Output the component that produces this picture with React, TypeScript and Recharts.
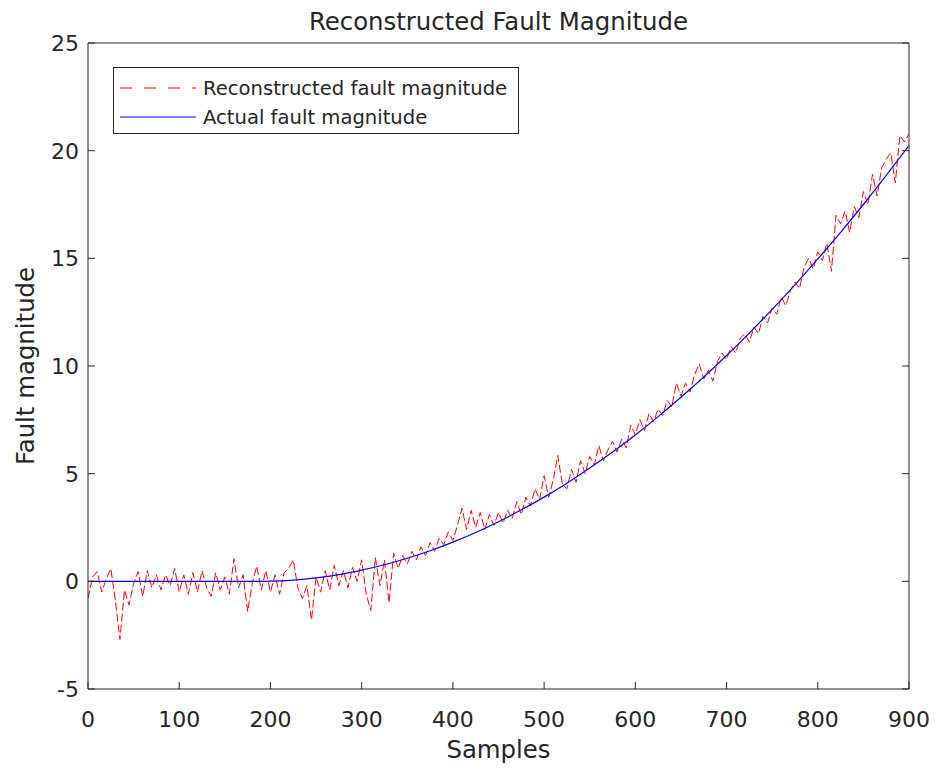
import React from 'react';
import { LineChart, Line, XAxis, YAxis } from 'recharts';

const xTicks = [0, 100, 200, 300, 400, 500, 600, 700, 800, 900];
const yTicks = [-5, 0, 5, 10, 15, 20, 25];

// Reconstructed fault magnitude, read every 5 samples (0..900)
const reconValues = [
  -0.8, 0.2, 0.45, -0.5, 0.1, 0.6, -0.9, -2.7, -0.4, -1.1,
  -0.1, 0.45, -0.7, 0.5, -0.3, 0.3, -0.4, 0.3, -0.2, 0.6,
  -0.5, 0.3, -0.6, 0.4, -0.5, 0.5, -0.3, -0.7, 0.4, -0.4,
  0.2, -0.6, 1.05, -0.3, 0.3, -1.4, -0.1, 0.7, -0.4, 0.5,
  -0.5, 0.3, -0.6, 0.4, 0.6, 1.0, -0.3, -0.8, -0.2, -1.8,
  0.2, -0.5, 0.5, -0.4, 0.75, -0.2, 0.5, -0.3, 0.65, 0.0,
  1.0, -0.6, -1.35, 1.1, -0.2, 1.0, -1.0, 1.3, 0.6, 1.2,
  0.8, 1.4, 1.0, 1.6, 1.2, 1.8, 1.4, 2.0, 1.7, 2.3,
  1.9, 2.6, 3.4, 2.4, 3.3, 2.5, 3.2, 2.4, 3.1, 2.6,
  3.2, 2.7, 3.3, 2.9, 3.7, 3.1, 3.9, 3.5, 4.3, 3.8,
  4.9, 3.9, 4.7, 5.85, 4.5, 4.3, 5.2, 4.6, 5.6, 5.0,
  5.8, 5.4, 6.3, 5.6, 6.1, 6.5, 6.0, 6.6, 6.2, 7.25,
  6.8, 7.5, 7.0, 7.8, 7.4, 8.0, 7.7, 8.4, 8.1, 9.2,
  8.6, 9.2, 8.8, 9.6, 10.1, 9.4, 9.8, 9.3, 10.2, 10.6,
  10.3, 10.9, 10.6, 11.3, 11.5, 11.1, 11.8, 11.5, 12.3, 12.0,
  12.7, 12.4, 13.2, 12.8, 13.5, 13.9, 13.6, 14.6, 15.0, 14.5,
  15.3, 14.9, 15.7, 14.4, 17.0, 16.6, 17.2, 16.2, 17.4, 16.9,
  18.1, 17.5, 18.9, 17.9, 19.2, 19.6, 19.9, 18.5, 20.7, 20.4,
  20.8,
];

// Actual fault magnitude
const actualSamples = [
  0, 100, 186, 200, 225, 250, 275, 300, 325, 350, 375, 400, 425, 450, 475, 500,
  525, 550, 575, 600, 625, 650, 675, 700, 725, 750, 775, 800, 825, 850, 875, 900,
];
const actualValues = [
  0, 0, 0, 0.01, 0.06, 0.16, 0.31, 0.52, 0.77, 1.07, 1.42, 1.82, 2.27, 2.77, 3.32, 3.91,
  4.56, 5.26, 6.01, 6.8, 7.65, 8.55, 9.49, 10.49, 11.53, 12.63, 13.77, 14.97, 16.21, 17.5, 18.85, 20.24,
];

const reconData = reconValues.map((y, i) => ({ x: i * 5, y }));
const actualData = actualSamples.map((x, i) => ({ x, y: actualValues[i] }));

const FONT = "'DejaVu Sans', 'Liberation Sans', Arial, sans-serif";
const INK = '#262626';
const TICK_LEN = 7;
const X_MARGIN = 22;
const Y_MARGIN = 9;

const BottomTick = (props: any) => {
  const { x, y, payload } = props;
  const axisY = y - X_MARGIN;
  return (
    <g>
      <line x1={x} y1={axisY} x2={x} y2={axisY - TICK_LEN} stroke={INK} strokeWidth={1} />
      <text x={x} y={y + 16} textAnchor="middle" fontFamily={FONT} fontSize={22} fill={INK}>
        {payload.value}
      </text>
    </g>
  );
};

const LeftTick = (props: any) => {
  const { x, y, payload } = props;
  const axisX = x + Y_MARGIN;
  return (
    <g>
      <line x1={axisX} y1={y} x2={axisX + TICK_LEN} y2={y} stroke={INK} strokeWidth={1} />
      <text x={x} y={y + 8} textAnchor="end" fontFamily={FONT} fontSize={22} fill={INK}>
        {payload.value}
      </text>
    </g>
  );
};

const TopTick = (props: any) => {
  const { x, y } = props;
  return <line x1={x} y1={y} x2={x} y2={y + TICK_LEN} stroke={INK} strokeWidth={1} />;
};

const RightTick = (props: any) => {
  const { x, y } = props;
  return <line x1={x} y1={y} x2={x - TICK_LEN} y2={y} stroke={INK} strokeWidth={1} />;
};

export default function App() {
  return (
    <div style={{ position: 'absolute', left: 0, top: 0, width: 937, height: 769, background: '#ffffff' }}>
      <LineChart
        width={937}
        height={769}
        margin={{ top: 42, right: 27, left: 0, bottom: 0 }}
      >
        <XAxis
          dataKey="x"
          type="number"
          domain={[0, 900]}
          ticks={xTicks}
          allowDataOverflow
          height={80}
          axisLine={{ stroke: INK, strokeWidth: 1 }}
          tickLine={false}
          tickSize={0}
          tickMargin={X_MARGIN}
          tick={BottomTick}
          label={{ value: 'Samples', position: 'insideBottom', offset: 11, style: { fill: INK, fontSize: 24.4, fontFamily: FONT } }}
        />
        <XAxis
          xAxisId="top"
          orientation="top"
          type="number"
          domain={[0, 900]}
          ticks={xTicks}
          allowDataOverflow
          height={1}
          axisLine={{ stroke: INK, strokeWidth: 1 }}
          tickLine={false}
          tickSize={0}
          tickMargin={0}
          tick={TopTick}
        />
        <YAxis
          type="number"
          domain={[-5, 25]}
          ticks={yTicks}
          allowDataOverflow
          width={88}
          axisLine={{ stroke: INK, strokeWidth: 1 }}
          tickLine={false}
          tickSize={0}
          tickMargin={Y_MARGIN}
          tick={LeftTick}
          label={{ value: 'Fault magnitude', angle: -90, position: 'insideLeft', offset: 25, style: { textAnchor: 'middle', fill: INK, fontSize: 24.4, fontFamily: FONT } }}
        />
        <YAxis
          yAxisId="right"
          orientation="right"
          type="number"
          domain={[-5, 25]}
          ticks={yTicks}
          allowDataOverflow
          width={1}
          axisLine={{ stroke: INK, strokeWidth: 1 }}
          tickLine={false}
          tickSize={0}
          tickMargin={0}
          tick={RightTick}
        />
        <Line
          data={reconData}
          dataKey="y"
          name="Reconstructed fault magnitude"
          type="linear"
          stroke="#ff0000"
          strokeWidth={1}
          strokeDasharray="8 3"
          dot={false}
          activeDot={false}
          isAnimationActive={false}
        />
        <Line
          data={actualData}
          dataKey="y"
          name="Actual fault magnitude"
          type="monotone"
          stroke="#0000ff"
          strokeWidth={1.2}
          dot={false}
          activeDot={false}
          isAnimationActive={false}
        />
      </LineChart>
      <svg
        width={937}
        height={769}
        style={{ position: 'absolute', left: 0, top: 0, pointerEvents: 'none' }}
      >
        <text x={498.5} y={30} textAnchor="middle" fontFamily={FONT} fontSize={24.4} fill={INK}>
          Reconstructed Fault Magnitude
        </text>
        <rect x={113.5} y={67.5} width={405} height={66} fill="#ffffff" stroke={INK} strokeWidth={1} />
        <line x1={120} y1={88} x2={196} y2={88} stroke="#ff0000" strokeWidth={1} strokeDasharray="12 12" />
        <text x={203} y={95} fontFamily={FONT} fontSize={19.6} fill={INK}>
          Reconstructed fault magnitude
        </text>
        <line x1={120} y1={117} x2={196} y2={117} stroke="#0000ff" strokeWidth={1} />
        <text x={203} y={124} fontFamily={FONT} fontSize={19.6} fill={INK}>
          Actual fault magnitude
        </text>
      </svg>
    </div>
  );
}
